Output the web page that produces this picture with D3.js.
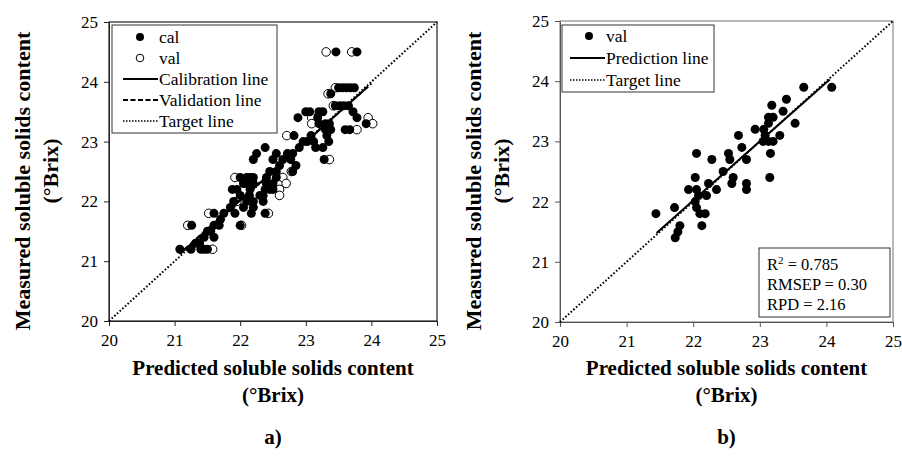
<!DOCTYPE html>
<html>
<head>
<meta charset="utf-8">
<script src="https://cdn.jsdelivr.net/npm/d3@7"></script>
<style>
  body { margin: 0; background: #fff; }
  svg text { font-family: "Liberation Serif", "Times New Roman", serif; fill: #000; }
</style>
</head>
<body>
<svg id="chart" width="902" height="463"></svg>
<script>
// [predicted, measured] pairs
const calPointsA = [
  [23.46,24.5],[23.78,24.5],
  [23.5,23.9],[23.56,23.9],[23.62,23.9],[23.68,23.9],[23.74,23.9],
  [23.38,23.8],
  [23.45,23.6],[23.52,23.6],[23.58,23.6],[23.65,23.6],
  [23.0,23.5],[23.06,23.5],[23.2,23.5],[23.26,23.5],[23.72,23.5],
  [22.88,23.4],[23.18,23.4],[23.78,23.4],
  [23.2,23.3],[23.3,23.3],[23.36,23.3],[23.92,23.3],
  [23.3,23.2],[23.38,23.2],[23.6,23.2],[23.67,23.2],
  [22.82,23.1],[23.08,23.1],[23.32,23.1],
  [22.96,23.0],[23.02,23.0],[23.12,23.0],[23.35,23.0],
  [22.38,22.9],[22.9,22.9],[23.15,22.9],[23.26,22.9],
  [22.25,22.8],[22.55,22.8],[22.72,22.8],[22.8,22.8],
  [22.2,22.7],[22.5,22.7],[22.65,22.7],[22.77,22.7],[23.28,22.7],
  [22.6,22.6],[22.85,22.6],
  [22.45,22.5],[22.55,22.5],[22.8,22.5],
  [22.0,22.4],[22.1,22.4],[22.15,22.4],[22.2,22.4],[22.4,22.4],[22.55,22.4],
  [22.05,22.3],[22.1,22.3],[22.15,22.3],[22.2,22.3],[22.4,22.3],[22.5,22.3],
  [21.88,22.2],[21.95,22.2],[22.15,22.2],[22.38,22.2],[22.45,22.2],[22.5,22.2],
  [22.0,22.1],[22.14,22.1],[22.3,22.1],[22.35,22.1],
  [21.9,22.0],[22.1,22.0],[22.2,22.0],[22.35,22.0],
  [21.85,21.9],[22.05,21.9],[22.2,21.9],
  [21.6,21.8],[21.75,21.8],[21.92,21.8],[22.17,21.8],[22.38,21.8],
  [21.7,21.7],
  [21.26,21.6],[21.6,21.6],[21.68,21.6],[22.0,21.6],
  [21.5,21.5],[21.55,21.5],
  [21.45,21.4],[21.6,21.4],
  [21.32,21.3],[21.38,21.3],
  [21.08,21.2],[21.25,21.2],[21.4,21.2],[21.45,21.2],[21.5,21.2]
];
const valPointsA = [
  [23.31,24.5],[23.7,24.5],[23.45,23.9],[23.34,23.8],[23.42,23.6],
  [23.09,23.4],[23.95,23.4],[23.09,23.3],[24.02,23.3],[23.78,23.2],
  [22.71,23.1],[23.36,22.7],[22.78,22.5],[21.92,22.4],
  [22.65,22.4],[22.7,22.3],[22.6,22.2],[22.6,22.1],[21.95,22.0],
  [21.52,21.8],[22.43,21.8],[21.2,21.6],[22.02,21.6],[21.58,21.2]
];
const valPointsB = [
  [24.08,23.9],[23.66,23.9],[23.4,23.7],[23.18,23.6],[23.35,23.5],
  [23.13,23.4],[23.2,23.4],[23.53,23.3],[23.13,23.3],[22.93,23.2],
  [23.06,23.2],[23.08,23.1],[22.68,23.1],[23.3,23.1],[23.05,23.0],
  [23.13,23.0],[23.2,23.0],[22.73,22.9],[22.53,22.8],[22.05,22.8],
  [23.16,22.8],[22.28,22.7],[22.55,22.7],[22.8,22.7],[22.45,22.5],
  [22.6,22.4],[22.03,22.4],[23.15,22.4],[22.58,22.3],[22.23,22.3],
  [22.8,22.3],[22.8,22.2],[21.93,22.2],[22.05,22.2],[22.35,22.2],
  [22.2,22.1],[22.08,22.1],[22.03,22.0],[22.05,21.9],[21.72,21.9],
  [22.1,21.8],[22.18,21.8],[21.44,21.8],[21.8,21.6],[22.13,21.6],
  [21.77,21.5],[21.73,21.4]
];
const calLineA = [[21.08,21.12],[23.95,23.92]];
const valLineA = [[21.15,21.2],[24.0,23.97]];
const predLineB = [[21.45,21.48],[24.05,24.03]];
const targetLine = [[20,20],[25,25]];
const ticks = [20, 21, 22, 23, 24, 25];
const legendA = ["cal", "val", "Calibration line", "Validation line", "Target line"];
const legendB = ["val", "Prediction line", "Target line"];
const statsB = ["RMSEP = 0.30", "RPD = 2.16"];
const xTitle = ["Predicted soluble solids content", "(°Brix)"];
const yTitle = ["Measured soluble solids content", "(°Brix)"];

const svg = d3.select("#chart");
const serif = "Liberation Serif, Times New Roman, serif";

function panel(o) {
  const x = d3.scaleLinear().domain([20, 25]).range([o.left, o.right]);
  const y = d3.scaleLinear().domain([20, 25]).range([o.bottom, o.top]);
  const g = svg.append("g");

  g.append("rect")
    .attr("x", o.left).attr("y", o.top)
    .attr("width", o.right - o.left).attr("height", o.bottom - o.top)
    .attr("fill", "none").attr("stroke", o.frame).attr("stroke-width", 1.2);

  const ax = g.append("g").attr("transform", `translate(0,${o.bottom})`)
    .call(d3.axisBottom(x).tickValues(ticks).tickFormat(d3.format("d")).tickSize(5).tickPadding(8).tickSizeOuter(0));
  const ay = g.append("g").attr("transform", `translate(${o.left},0)`)
    .call(d3.axisLeft(y).tickValues(ticks).tickFormat(d3.format("d")).tickSize(5).tickPadding(6).tickSizeOuter(0));
  [ax, ay].forEach(a => {
    a.attr("font-family", serif).attr("font-size", 17);
    a.selectAll("line, path").attr("stroke", o.axis);
  });

  const line = d3.line(d => x(d[0]), d => y(d[1]));
  g.append("path").datum(targetLine).attr("d", line)
    .attr("fill", "none").attr("stroke", "#000").attr("stroke-width", 2).attr("stroke-dasharray", "1.6,2");

  o.draw(g, x, y, line);

  // titles
  const cx = (o.left + o.right) / 2;
  g.selectAll(".xt").data(xTitle).join("text")
    .attr("x", cx).attr("y", (d, i) => 375 + i * 27)
    .attr("text-anchor", "middle").style("font-size", "21px").style("font-weight", "bold")
    .text(d => d);
  g.append("text").attr("x", cx).attr("y", 444)
    .attr("text-anchor", "middle").style("font-size", "21px").style("font-weight", "bold")
    .text(o.tag);
  g.selectAll(".yt").data(yTitle).join("text")
    .attr("transform", (d, i) => `translate(${o.left - 79 + i * 28},${i === 0 ? 181 : 171}) rotate(-90)`)
    .attr("text-anchor", "middle").style("font-size", "22px").style("font-weight", "bold")
    .text(d => d);
}

panel({
  left: 109, right: 437, top: 22, bottom: 321, frame: "#222", axis: "#222", tag: "a)",
  draw(g, x, y, line) {
    g.selectAll(".v").data(valPointsA).join("circle")
      .attr("cx", d => x(d[0])).attr("cy", d => y(d[1])).attr("r", 4.3)
      .attr("fill", "#fff").attr("stroke", "#000").attr("stroke-width", 1);
    g.selectAll(".c").data(calPointsA).join("circle")
      .attr("cx", d => x(d[0])).attr("cy", d => y(d[1])).attr("r", 4.5)
      .attr("fill", "#000");
    g.append("path").datum(calLineA).attr("d", line)
      .attr("fill", "none").attr("stroke", "#000").attr("stroke-width", 2);
    g.append("path").datum(valLineA).attr("d", line)
      .attr("fill", "none").attr("stroke", "#000").attr("stroke-width", 2).attr("stroke-dasharray", "5,3");

    // legend
    const lg = g.append("g");
    lg.append("rect").attr("x", 112).attr("y", 25).attr("width", 165).attr("height", 108)
      .attr("fill", "#fff").attr("stroke", "#333").attr("stroke-width", 1);
    legendA.forEach((t, i) => {
      const yy = 37 + i * 21;
      if (i === 0) lg.append("circle").attr("cx", 140).attr("cy", yy).attr("r", 4).attr("fill", "#000");
      else if (i === 1) lg.append("circle").attr("cx", 140).attr("cy", yy).attr("r", 3.8)
        .attr("fill", "#fff").attr("stroke", "#000");
      else lg.append("line").attr("x1", 123).attr("x2", 158).attr("y1", yy).attr("y2", yy)
        .attr("stroke", "#000").attr("stroke-width", i === 4 ? 1.6 : 2)
        .attr("stroke-dasharray", i === 3 ? "5,2.5" : i === 4 ? "1.5,1.5" : null);
      lg.append("text").attr("x", 159).attr("y", yy + 6).style("font-size", "17.5px").text(t);
    });
  }
});

panel({
  left: 560, right: 893, top: 21, bottom: 322, frame: "#8a8a8a", axis: "#555", tag: "b)",
  draw(g, x, y, line) {
    g.selectAll(".v").data(valPointsB).join("circle")
      .attr("cx", d => x(d[0])).attr("cy", d => y(d[1])).attr("r", 4.5)
      .attr("fill", "#000");
    g.append("path").datum(predLineB).attr("d", line)
      .attr("fill", "none").attr("stroke", "#000").attr("stroke-width", 2);

    const lg = g.append("g");
    lg.append("rect").attr("x", 562).attr("y", 25).attr("width", 152).attr("height", 67)
      .attr("fill", "#fff").attr("stroke", "#333").attr("stroke-width", 1);
    legendB.forEach((t, i) => {
      const yy = 36 + i * 22;
      if (i === 0) lg.append("circle").attr("cx", 589).attr("cy", yy).attr("r", 4).attr("fill", "#000");
      else lg.append("line").attr("x1", 570).attr("x2", 605).attr("y1", yy).attr("y2", yy)
        .attr("stroke", "#000").attr("stroke-width", i === 2 ? 1.6 : 2)
        .attr("stroke-dasharray", i === 2 ? "1.5,1.5" : null);
      lg.append("text").attr("x", 606).attr("y", yy + 6).style("font-size", "17.5px").text(t);
    });

    const sb = g.append("g");
    sb.append("rect").attr("x", 759).attr("y", 248).attr("width", 131).attr("height", 69)
      .attr("fill", "#fff").attr("stroke", "#333").attr("stroke-width", 1);
    const r2 = sb.append("text").attr("x", 767).attr("y", 270).style("font-size", "16.5px");
    r2.append("tspan").text("R");
    r2.append("tspan").attr("dy", -6).style("font-size", "11px").text("2");
    r2.append("tspan").attr("dy", 6).text(" = 0.785");
    statsB.forEach((t, i) => {
      sb.append("text").attr("x", 767).attr("y", 290 + i * 20).style("font-size", "16.5px").text(t);
    });
  }
});
</script>
</body>
</html>
